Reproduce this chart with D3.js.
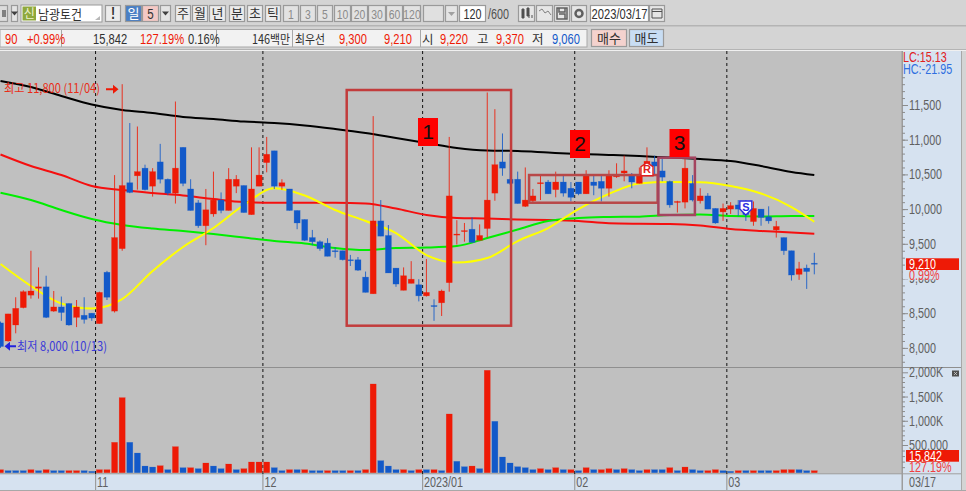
<!DOCTYPE html>
<html><head><meta charset="utf-8">
<script src="https://cdn.jsdelivr.net/npm/d3@7"></script>
<style>
html,body{margin:0;padding:0;background:#d4d4d4;overflow:hidden}
svg{display:block}
text{font-family:"Liberation Sans","Noto Sans CJK KR",sans-serif}
.ko{font-family:"Noto Sans CJK KR",sans-serif}
</style></head><body>
<script>
const opens=[8360,8100,8330,8580,8760,8860,8880,8530,8590,8640,8440,8470,8500,8350,9090,8530,9430,10380,10480,10590,10330,10680,10430,10230,10890,10290,10090,9760,9930,10130,9980,10330,10340,9920,10330,10670,10840,10330,10290,9980,9850,9590,9530,9510,9400,9400,9270,9270,9020,8780,9830,9620,9150,8830,8930,8910,8750,8610,8650,8940,9630,9680,9710,9550,9720,10230,10680,10430,10430,10040,10120,10370,10390,10280,10390,10300,10390,10220,10390,10400,10300,10470,10520,10480,10370,10630,10680,10550,10400,10100,10100,10370,10120,10190,10010,9960,10000,10060,10010,9820,10000,9890,9700,9590,9400,9060,9150,9220];
const closes=[8020,8490,8570,8810,8820,8880,8440,8590,8510,8330,8590,8410,8430,8800,8730,9590,10340,10240,10540,10280,10540,10430,10230,10590,10370,9980,9760,9990,10130,9980,10430,10430,9950,10290,10490,10790,10330,10380,9980,9800,9550,9530,9430,9320,9390,9270,9260,9120,8800,9830,9610,9080,8920,9040,8990,8750,8800,8600,8820,10190,9640,9690,9520,9620,10130,10640,10590,10370,10080,10130,10190,10380,10220,10390,10230,10170,10220,10480,10340,10300,10480,10480,10550,10390,10480,10690,10620,10460,10060,10110,10590,10130,10190,10000,9800,10010,10050,10000,9920,10010,9880,9830,9750,9400,9050,9140,9100,9210];
const highs=[8380,8490,8730,8830,9400,9160,9040,8820,8740,8640,8690,8730,8500,8810,9110,10490,11800,11240,11190,10640,10590,10940,10440,11550,10890,10430,10130,10290,10540,10240,10590,10490,10340,10890,10890,11040,10840,10430,10290,9980,9850,9700,9550,9580,9450,9400,9340,9310,9100,11340,10130,9770,9150,9160,9250,8990,9280,8700,8840,11040,9840,9800,9880,9780,11680,11440,11090,10800,10540,10600,10290,10490,10420,10540,10480,10390,10390,10560,10480,10490,10560,10660,10770,10520,10600,10890,10770,10730,10410,10120,10720,10490,10300,10230,10010,10080,10100,10130,10130,10110,10000,10040,9830,9590,9400,9240,9200,9370];
const lows=[8000,8090,8210,8570,8710,8710,8430,8520,8390,8320,8300,8350,8390,8350,8690,8510,9400,10230,10280,10270,10180,10370,10200,10080,10330,9980,9730,9480,9890,9940,9980,10230,9950,9920,10330,10530,10290,10280,9980,9710,9540,9480,9400,9320,9300,9260,9180,9110,8800,8780,9610,9080,8880,8830,8930,8670,8740,8390,8460,8810,9490,9530,9520,9550,9590,10120,10480,10350,10080,10030,10080,10130,10220,10170,10180,10110,10200,10220,10200,10110,10180,10450,10400,10300,10370,10500,10490,10400,10020,9950,10010,10110,10080,10000,9790,9830,9930,9900,9830,9760,9760,9790,9590,9340,8970,8980,8850,9060];
const volumes=[54,36,36,36,54,36,54,36,36,36,36,36,24,54,54,555,1477,555,355,120,102,126,54,470,90,90,72,175,120,72,157,54,72,193,193,193,90,36,54,54,54,36,36,36,36,36,36,36,54,1759,217,120,54,54,36,54,54,54,36,1140,205,108,120,72,2041,988,283,175,108,90,54,72,54,90,54,54,36,90,54,54,72,54,72,54,36,54,54,54,90,36,102,54,36,36,54,36,24,36,36,36,36,36,36,54,54,54,36,36];
const volumeRise=["RBBBRBRBBR","RBBRRRRBBB","BRBRBRBRBB","RBRRRRBBRB","RBBRBBRBRR","BBBRBRBRBR","BBRBRBBBBB","BRBRBRBRBR","RBRBBRBBRB","RBBRRBBRBR","BBRRRBBR"].join("");
const maIndex=[0,4,8,12,16,20,24,28,32,36,40,44,48,52,56,60,64,68,72,76,80,84,88,92,96,100,104,107];
const maBlack=[11846,11759,11630,11507,11428,11385,11327,11298,11262,11241,11205,11154,11096,11024,10952,10880,10844,10837,10815,10794,10780,10765,10743,10722,10693,10621,10535,10491];
const maRed=[10787,10621,10491,10333,10275,10232,10196,10145,10102,10092,10092,10092,10081,10008,9915,9872,9864,9850,9843,9828,9795,9788,9785,9764,9713,9684,9663,9645];
const maGreen=[10236,10131,9987,9857,9771,9720,9684,9641,9591,9540,9504,9439,9410,9439,9446,9468,9583,9706,9828,9872,9886,9891,9915,9922,9900,9893,9900,9900];
const maYellow=[9209,8892,8640,8567,8704,9108,9454,9727,10059,10300,10196,9987,9828,9655,9338,9230,9295,9540,9727,10001,10220,10369,10390,10386,10333,10225,10030,9818];
const monthStart=[13,35,56,76,96];
const monthLabel=["11","12","2023/01","02","03"];
const priceTicks=[8000,8500,9000,9500,10000,10500,11000,11500];
const volTicks=[500,1000,1500,2000];
const volTickText=["500,000","1,000K","1,500K","2,000K"];
const boxes=[{i0:45.52,i1:67.13,p0:8320,p1:11716},{i0:69.5,i1:86.4,p0:10092,p1:10491},{i0:86.5,i1:91.3,p0:9915,p1:10741}];

const RED="#ee1a06",BLUE="#1259c9",PANE="#d6e2f0",GRID="#c0c0c0";
const W=966,H=491;
const svg=d3.select("body").append("svg").attr("width",W).attr("height",H);
const x=d3.scaleLinear().domain([0,107]).range([0.5,814.3]);
const yP=d3.scaleLinear().domain([8000,11500]).range([347.9,105]);
const yV=d3.scaleLinear().domain([0,500,2000]).range([472.7,445,372.3]);
const step=x(1)-x(0);
const data=d3.range(opens.length).map(i=>({i,o:opens[i],h:highs[i],l:lows[i],c:closes[i],v:volumes[i],vr:volumeRise[i]}));

// frame
svg.append("rect").attr("width",W).attr("height",H).attr("fill","#d4d4d4");
svg.append("rect").attr("x",0).attr("y",25).attr("width",W).attr("height",1.5).attr("fill","#b4b4b4");
svg.append("rect").attr("x",0).attr("y",49).attr("width",W).attr("height",1).attr("fill","#b4b4b4");
svg.append("rect").attr("x",0).attr("y",50).attr("width",W).attr("height",1).attr("fill","#f0f0f0");
svg.append("rect").attr("x",0).attr("y",51).attr("width",902).attr("height",423).attr("fill",GRID);
svg.append("rect").attr("x",902).attr("y",51).attr("width",59).attr("height",423).attr("fill",PANE);
svg.append("rect").attr("x",0).attr("y",474).attr("width",961).attr("height",16).attr("fill",PANE);
svg.append("rect").attr("x",0).attr("y",490).attr("width",W).attr("height",1).attr("fill","#a8a8a8");
svg.append("rect").attr("x",0).attr("y",473.3).attr("width",961).attr("height",1).attr("fill","#a0a0a0");
svg.append("rect").attr("x",901.5).attr("y",51).attr("width",1.5).attr("height",439).attr("fill","#9c9c9c");
svg.append("rect").attr("x",961).attr("y",51).attr("width",1).attr("height",439).attr("fill","#a8a8a8");
svg.append("rect").attr("x",0).attr("y",367).attr("width",961).attr("height",1).attr("fill","#8f8f8f");

// toolbar
function btn(x0,x1,y0,y1,label,fill,col,o={}){
  const g=svg.append("g");
  g.append("rect").attr("x",x0+.5).attr("y",y0+.5).attr("width",x1-x0-1).attr("height",y1-y0-1).attr("fill",fill).attr("stroke",o.stroke||"#9a9a9a").attr("stroke-width",1.2);
  if(label) g.append("text").attr("class",o.latin?null:"ko").attr("x",(x0+x1)/2).attr("y",(y0+y1)/2+(o.dy||4.5)).attr("text-anchor","middle").attr("font-size",o.fs||13).attr("font-weight",o.fw||400).attr("fill",col||"#404040").text(label);
  return g;
}
function down(x0,x1,yc){ btn(x0,x1,5,22,"","#e4e4e4"); svg.append("path").attr("d",`M${(x0+x1)/2-3.5},${yc-2}h7l-3.5,4z`).attr("fill","#404040"); }
function txt(xp,yp,s,col,fs,o={}){ return svg.append("text").attr("class",o.ko?"ko":null).attr("x",xp).attr("y",yp).attr("fill",col).attr("font-size",fs).attr("text-anchor",o.a||"start").attr("font-weight",o.fw||400).text(s); }

btn(-4,8,5,22,"","#dcdcdc"); svg.append("rect").attr("x",2).attr("y",10).attr("width",4).attr("height",7).attr("fill","#808080");
down(11,18,13.5);
svg.append("rect").attr("x",21).attr("y",5).attr("width",81).attr("height",17).attr("fill","#fff").attr("stroke","#9a9a9a");
svg.append("rect").attr("x",22.5).attr("y",6.5).attr("width",13.5).attr("height",14).attr("fill","#8fa83c");
txt(29.2,18,"신","#eef2d0",12,{ko:1,a:"middle"});
txt(38,18.5,"남광토건","#303030",13,{ko:1}).attr("textLength",44).attr("lengthAdjust","spacingAndGlyphs");
svg.append("path").attr("d","M100,16v4h-5z").attr("fill","#b8b8b8");
btn(105,121,5,22,"!","#ececec","#303030",{latin:1,fw:700,fs:16,dy:5.5});
btn(125,142,5,22,"일","#4a7fc4","#fff");
btn(142,159,5,22,"5","#f4c9c5","#333",{latin:1,fs:15,dy:5});
down(160,171,13.5);
const bts=[["주",175,191],["월",192,208],["년",209,226],["분",229,245],["초",247,263],["틱",265,281]];
bts.forEach(b=>btn(b[1],b[2],5,22,b[0],"#ececec","#333"));
[["1",283,299],["3",300,316],["5",317,333],["10",334,351],["20",351,368],["30",368,386],["60",386,403],["120",403,421]].forEach(b=>btn(b[1],b[2],5,22,b[0],"#e2e2e2","#8a8a8a",{latin:1,fs:13.5,dy:5}));
btn(423,444,5,22,"","#e0e0e0");
btn(445,458,5,22,"","#e4e4e4"); svg.append("path").attr("d","M448,12h7l-3.5,4z").attr("fill","#a0a0a0");
btn(459,486,5,22,"120","#fff","#303030",{latin:1,fs:14,dy:5});
txt(488,18.5,"/600","#505050",14);
[[518,535],[536,553],[554,570],[571,587]].forEach(b=>btn(b[0],b[1],5,22,"","#e6e6e6"));
svg.append("path").attr("d","M522,9h2v9h-2zM527,8h2v8h-2zM529,15v3M532,15v3").attr("fill","#505050").attr("stroke","#505050");
svg.append("path").attr("d","M539,11l3,-2l3,4l3,-2l3,4").attr("fill","none").attr("stroke","#808080");
svg.append("path").attr("d","M557,8h10v11h-10zM559,8v4h6v-4M559,14h6v5").attr("fill","none").attr("stroke","#606060").attr("stroke-width",1.5);
svg.append("circle").attr("cx",579).attr("cy",13.5).attr("r",3.5).attr("fill","none").attr("stroke","#606060").attr("stroke-width",2.5);
btn(590,649,5,22,"2023/03/17","#fff","#303030",{latin:1,fs:14.5,dy:5});
btn(649,665,5,22,"","#e6e6e6"); svg.append("path").attr("d","M652,9h10v9h-10zM652,11.5h10").attr("fill","none").attr("stroke","#505050");

// second row
svg.append("rect").attr("x",0).attr("y",29.5).attr("width",587).attr("height",17.5).attr("fill","#f2f2f2").attr("stroke","#a8a8a8");
[61,216,292,420].forEach(v=>svg.append("rect").attr("x",v).attr("y",30).attr("width",1).attr("height",17).attr("fill","#a8a8a8"));
const ry=43.5,rf=14.5;
txt(5,ry,"90",RED,rf);txt(27,ry,"+0.99%",RED,rf);
txt(93,ry,"15,842","#303030",rf);txt(140,ry,"127.19%",RED,rf);txt(188,ry,"0.16%","#303030",rf);
txt(252,ry,"146백만","#303030",12.5,{ko:1}).attr("textLength",38).attr("lengthAdjust","spacingAndGlyphs");
txt(295,ry,"최우선","#303030",12.5,{ko:1}).attr("textLength",30).attr("lengthAdjust","spacingAndGlyphs");
txt(339,ry,"9,300",RED,rf);txt(384,ry,"9,210",RED,rf);
txt(422,ry,"시","#303030",12.5,{ko:1});txt(440,ry,"9,220",RED,rf);
txt(477,ry,"고","#303030",12.5,{ko:1});txt(496,ry,"9,370",RED,rf);
txt(532,ry,"저","#303030",12.5,{ko:1});txt(552,ry,"9,060",BLUE,rf);
btn(591,627,29,47,"매수","#f4d2ce","#303030");
btn(629,664,29,47,"매도","#c8ddf3","#303030");

// chart clip
svg.append("clipPath").attr("id","plot").append("rect").attr("x",0).attr("y",51).attr("width",901).attr("height",423);
const plot=svg.append("g").attr("clip-path","url(#plot)");

// month lines
monthStart.forEach((m,k)=>{
  const px=x(m)-step/2;
  plot.append("line").attr("x1",px).attr("x2",px).attr("y1",51).attr("y2",474).attr("stroke","#111").attr("stroke-dasharray","3,3");
  svg.append("line").attr("x1",px).attr("x2",px).attr("y1",474).attr("y2",490).attr("stroke","#9c9c9c").attr("stroke-width",1.2);
  txt(px+1.5,486.5,monthLabel[k],"#606060",14);
});
svg.append("text").attr("x",909).attr("y",486.5).attr("fill","#606060").attr("font-size",14).text("03/17");

// MAs
const line=d3.line().x((d,k)=>x(maIndex[k])).y(d=>yP(d)).curve(d3.curveMonotoneX);
[[maBlack,"#000"],[maRed,"#f50f0f"],[maGreen,"#00ee00"],[maYellow,"#ffff00"]].forEach(s=>{
  plot.append("path").datum(s[0]).attr("d",line).attr("fill","none").attr("stroke",s[1]).attr("stroke-width",2);
});

// candles
const col=d=>d.c>=d.o?RED:BLUE;
const cg=plot.selectAll("g.c").data(data).join("g");
cg.append("line").attr("x1",d=>x(d.i)).attr("x2",d=>x(d.i)).attr("y1",d=>yP(d.h)).attr("y2",d=>yP(d.l)).attr("stroke",col).attr("stroke-width",1).attr("stroke-opacity",.85);
cg.append("rect").attr("x",d=>x(d.i)-3).attr("width",6)
  .attr("y",d=>yP(Math.max(d.o,d.c)))
  .attr("height",d=>Math.max(1,Math.abs(yP(d.o)-yP(d.c))))
  .attr("fill",col).attr("stroke",col).attr("stroke-width",.6).attr("stroke-opacity",.4);

// volume
plot.selectAll("rect.v").data(data).join("rect").attr("class","v")
  .attr("x",d=>x(d.i)-3).attr("width",6)
  .attr("y",d=>yV(d.v)).attr("height",d=>yV(0)-yV(d.v))
  .attr("fill",d=>d.vr==="R"?RED:BLUE).attr("stroke",d=>d.vr==="R"?RED:BLUE).attr("stroke-width",.5).attr("stroke-opacity",.4);

// analyst boxes
boxes.forEach((b,k)=>{
  const c=k==0?"#c23c3c":k==1?"#b84848":"#a4445f";
  plot.append("rect").attr("x",x(b.i0)).attr("y",yP(b.p1)).attr("width",x(b.i1)-x(b.i0)).attr("height",yP(b.p0)-yP(b.p1))
    .attr("fill","none").attr("stroke",c).attr("stroke-width",2.5);
});
[[418,118,"1"],[570,130,"2"],[669.5,129,"3"]].forEach(l=>{
  svg.append("rect").attr("x",l[0]).attr("y",l[1]).attr("width",20).attr("height",28).attr("fill","#ff0000");
  svg.append("text").attr("class","big").attr("x",l[0]+10).attr("y",l[1]+21).attr("text-anchor","middle").attr("font-size",21).attr("fill","#111").text(l[2]);
});

// signal markers
function marker(i,price,letter,c,up){
  const px=x(i),py=yP(price);
  const d=up?`M${px},${py-7}l6,4v9h-12v-9z`:`M${px-6},${py-7}h12v8l-6,6l-6,-6z`;
  svg.append("path").attr("d",d).attr("fill","#fff").attr("stroke",c).attr("stroke-width",1.4);
  svg.append("text").attr("class","big").attr("x",px).attr("y",py+3.5).attr("text-anchor","middle").attr("font-size",11).attr("font-weight",700).attr("fill",c).text(letter);
}
marker(85,10568,"R","#e02020",true);
marker(98,10016,"S","#2b2be0",false);

// high/low notes
svg.append("text").attr("class","ko").attr("x",4).attr("y",92.5).attr("fill",RED).attr("font-size",12.5).attr("opacity",.9).attr("textLength",96).attr("lengthAdjust","spacingAndGlyphs").text("최고 11,800 (11/04)");
svg.append("path").attr("d","M106,88.2h7v-3.5l5.5,4.5l-5.5,4.5v-3.5h-7z").attr("fill",RED);
svg.append("path").attr("d","M16,345.2h-6v-3.5l-5.5,4.5l5.5,4.5v-3.5h6z").attr("fill","#2222dd");
svg.append("text").attr("class","ko").attr("x",17).attr("y",350.5).attr("fill","#3a3ad8").attr("font-size",12.5).attr("textLength",90).attr("lengthAdjust","spacingAndGlyphs").text("최저 8,000 (10/13)");

// right axes
const ax=g=>{g.select(".domain").remove();g.selectAll("line").attr("stroke","#8c8c8c");g.selectAll("text").attr("fill","#606060").attr("font-size",14);};
svg.append("g").attr("transform","translate(902,0)").call(d3.axisRight(yP).tickValues(d3.range(7800,12000,100)).tickSize(3).tickFormat("")).call(ax);
svg.append("g").attr("transform","translate(902,0)").call(d3.axisRight(yP).tickValues(priceTicks).tickSize(6).tickPadding(1).tickFormat(d3.format(","))).call(ax);
svg.append("g").attr("transform","translate(902,0)").call(d3.axisRight(yV).tickValues(d3.range(100,2000,100)).tickSize(3).tickFormat("")).call(ax);
svg.append("g").attr("transform","translate(902,0)").call(d3.axisRight(yV).tickValues(volTicks).tickSize(6).tickPadding(1).tickFormat((d,k)=>volTickText[k])).call(ax);

// value flags
txt(903,62,"LC:15.13","#e02020",14);
txt(903,73.5,"HC:-21.95","#2f6fe0",14);
svg.append("rect").attr("x",906).attr("y",258.3).attr("width",53).attr("height",11.7).attr("fill",RED);
txt(909,269,"9,210","#fff",14);
svg.append("rect").attr("x",903).attr("y",270).attr("width",56).attr("height",9.3).attr("fill",PANE);
txt(909,280,"0.99%","#f04040",14);
svg.append("rect").attr("x",906).attr("y",450).attr("width",53).attr("height",11.7).attr("fill",RED);
txt(909,460.5,"15,842","#fff",14);
txt(909,471.5,"127.19%","#f04040",14);
svg.append("rect").attr("x",952).attr("y",370.5).attr("width",7).attr("height",6).attr("fill","#505050");
svg.append("path").attr("d","M954,372l3,3M957,372l-3,3").attr("stroke","#ddd").attr("stroke-width",.7);

// the terminal's latin face is narrow: compress latin labels horizontally
svg.selectAll("text").each(function(){
  const s=d3.select(this);
  if(s.classed("ko")||s.classed("big")||s.attr("textLength")||!this.textContent) return;
  s.attr("textLength",this.getComputedTextLength()*0.77).attr("lengthAdjust","spacingAndGlyphs");
});
</script>
</body></html>
